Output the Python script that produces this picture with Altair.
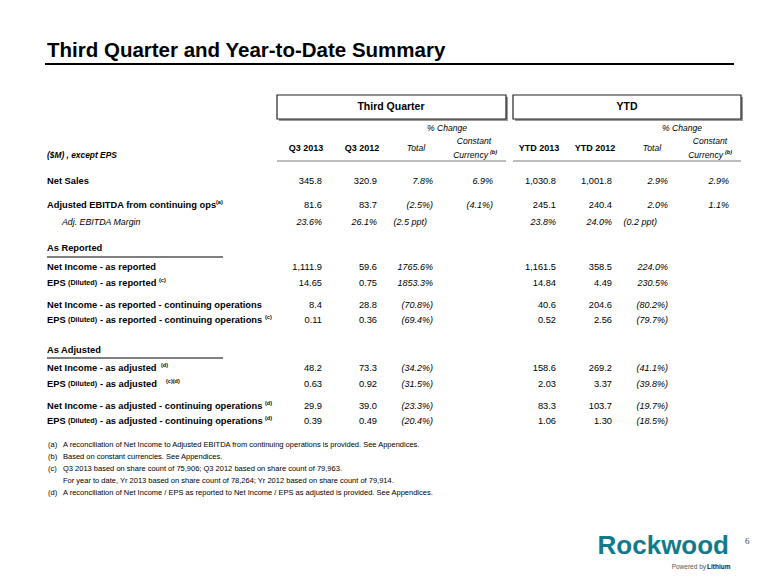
import altair as alt
import pandas as pd

FONT = "Liberation Sans"

# ---------------- data ----------------
title = "Third Quarter and Year-to-Date Summary"
group_titles = ["Third Quarter", "YTD"]
col_headers = ["Q3 2013", "Q3 2012", "Total", "Constant", "YTD 2013", "YTD 2012", "Total", "Constant"]
unit_label = "($M) , except EPS"

row_main = ["Net Sales", "Adjusted EBITDA from continuing ops", "Adj. EBITDA Margin",
            "Net Income  - as reported", "EPS", "Net Income  - as reported - continuing operations", "EPS",
            "Net Income  - as adjusted", "EPS", "Net Income - as adjusted - continuing operations", "EPS"]
row_small = ["", "", "", "", "(Diluted)", "", "(Diluted)", "", "(Diluted)", "", "(Diluted)"]
row_rest = ["", "", "", "", "- as reported", "", "- as reported - continuing operations", "",
            "- as adjusted", "", "- as adjusted - continuing operations"]
row_notes = ["", "(a)", "", "", "(c)", "", "(c)", "(d)", "(c)(d)", "(d)", "(d)"]

q3_2013 = ["345.8", "81.6", "23.6%", "1,111.9", "14.65", "8.4", "0.11", "48.2", "0.63", "29.9", "0.39"]
q3_2012 = ["320.9", "83.7", "26.1%", "59.6", "0.75", "28.8", "0.36", "73.3", "0.92", "39.0", "0.49"]
q3_total = ["7.8%", "(2.5%)", "(2.5 ppt)", "1765.6%", "1853.3%", "(70.8%)", "(69.4%)", "(34.2%)", "(31.5%)", "(23.3%)", "(20.4%)"]
q3_cc = ["6.9%", "(4.1%)", "", "", "", "", "", "", "", "", ""]
ytd_2013 = ["1,030.8", "245.1", "23.8%", "1,161.5", "14.84", "40.6", "0.52", "158.6", "2.03", "83.3", "1.06"]
ytd_2012 = ["1,001.8", "240.4", "24.0%", "358.5", "4.49", "204.6", "2.56", "269.2", "3.37", "103.7", "1.30"]
ytd_total = ["2.9%", "2.0%", "(0.2 ppt)", "224.0%", "230.5%", "(80.2%)", "(79.7%)", "(41.1%)", "(39.8%)", "(19.7%)", "(18.5%)"]
ytd_cc = ["2.9%", "1.1%", "", "", "", "", "", "", "", "", ""]

section_titles = ["As Reported", "As Adjusted"]

foot_keys = ["(a)", "(b)", "(c)", "", "(d)"]
foot_texts = [
    "A reconciliation of Net Income to Adjusted EBITDA from continuing operations is provided. See Appendices.",
    "Based on constant currencies. See Appendices.",
    "Q3 2013 based on share count of 75,906; Q3 2012 based on share count of 79,963.",
    "For year to date, Yr 2013 based on share count of 78,264; Yr 2012 based on share count of 79,914.",
    "A reconciliation of Net Income / EPS as reported to Net Income / EPS as adjusted is provided. See Appendices.",
]

# ---------------- layout (pixel positions) ----------------
row_y = [181, 205, 222, 267, 283, 305, 320, 368, 384, 406, 421]
col_right = [322, 377, 433, 493, 556, 612, 668, 729]
col_center = [306, 362, 416, 474, 539, 595, 652, 710]
italic_cols = {2, 3, 6, 7}
note_x = [0, 216, 0, 0, 159, 0, 265, 161, 166, 265, 265]
section_y = [248, 350]
foot_y = [445, 457, 469, 481, 493]

X = alt.X("x:Q", scale=alt.Scale(domain=[8, 772], nice=False, zero=False), axis=None)
Y = alt.Y("y:Q", scale=alt.Scale(domain=[8, 577], nice=False, zero=False, reverse=True), axis=None)


def txt(rows, size, weight="normal", style="normal", align="left", color="black",
        baseline="middle", font=FONT):
    df = pd.DataFrame(rows, columns=["x", "y", "t"])
    return alt.Chart(df).mark_text(font=font, fontSize=size, fontWeight=weight, fontStyle=style,
                                   align=align, baseline=baseline, color=color).encode(
        x=X, y=Y, text="t:N")


def rules(rows, color="black", width=1.0):
    df = pd.DataFrame(rows, columns=["x", "x2", "y", "y2"])
    return alt.Chart(df).mark_rule(color=color, strokeWidth=width).encode(
        x=X, x2="x2:Q", y=Y, y2="y2:Q")


def rects(rows, fill, stroke=None, width=1.0):
    df = pd.DataFrame(rows, columns=["x", "x2", "y", "y2"])
    kw = dict(fill=fill, strokeWidth=width)
    if stroke:
        kw["stroke"] = stroke
    return alt.Chart(df).mark_rect(**kw).encode(x=X, x2="x2:Q", y=Y, y2="y2:Q")


layers = []

# title
layers.append(txt([(47, 57, title)], 20.5, weight="bold", baseline="alphabetic"))
layers.append(rules([(45, 734, 64, 64)], width=2))

# group boxes (shadow + box)
boxes = [(277, 506, 95, 119), (513, 741, 95, 119)]
layers.append(rects([(a + 2, b + 2, c + 2, d + 2) for a, b, c, d in boxes], fill="#9a9a9a"))
layers.append(rects(boxes, fill="white", stroke="#222222", width=1.2))
layers.append(txt([(391, 107, group_titles[0]), (627, 107, group_titles[1])], 10.5,
                  weight="bold", align="center"))

# column headers
layers.append(txt([(447, 128, "% Change"), (682, 128, "% Change")], 8.6, style="italic", align="center"))
hdr_bold = [(col_center[i], 148, col_headers[i]) for i in (0, 1, 4, 5)]
layers.append(txt(hdr_bold, 9, weight="bold", align="center"))
hdr_it = [(col_center[2], 148, col_headers[2]), (col_center[6], 148, col_headers[6]),
          (col_center[3], 141, col_headers[3]), (col_center[7], 141, col_headers[7])]
layers.append(txt(hdr_it, 8.6, style="italic", align="center"))
layers.append(txt([(488, 155, "Currency"), (723, 155, "Currency")], 8.6, style="italic", align="right"))
layers.append(txt([(490, 152, "(b)"), (725, 152, "(b)")], 5.5, weight="bold", style="italic"))
layers.append(txt([(47, 155, unit_label)], 8.4, weight="bold", style="italic"))
layers.append(rules([(277, 506, 161, 161), (513, 741, 161, 161)], color="#bdbdbd", width=2))

# row labels
main_bold = [(47, row_y[i], row_main[i]) for i in range(len(row_main)) if i != 2]
layers.append(txt(main_bold, 9.3, weight="bold"))
layers.append(txt([(62, row_y[2], row_main[2])], 8.8, style="italic"))
small = [(68, row_y[i], row_small[i]) for i in range(len(row_small)) if row_small[i]]
layers.append(txt(small, 7.2, weight="bold"))
rest = [(100, row_y[i], row_rest[i]) for i in range(len(row_rest)) if row_rest[i]]
layers.append(txt(rest, 9.3, weight="bold"))
notes = [(note_x[i], row_y[i] - 3, row_notes[i]) for i in range(len(row_notes)) if row_notes[i]]
layers.append(txt(notes, 5.5, weight="bold"))

# section headers
layers.append(txt([(47, section_y[0], section_titles[0]), (47, section_y[1], section_titles[1])], 9.3, weight="bold"))
layers.append(rules([(47, 223, 257, 257), (47, 223, 358, 358)], color="#555555", width=1.3))

# values
columns = [q3_2013, q3_2012, q3_total, q3_cc, ytd_2013, ytd_2012, ytd_total, ytd_cc]
ppt_shift = {2: -6, 6: -11}
regular, italic = [], []
for c, col in enumerate(columns):
    for r, v in enumerate(col):
        if not v:
            continue
        x = col_right[c] + (ppt_shift.get(c, 0) if "ppt" in v else 0)
        cell = (x, row_y[r], v)
        if c in italic_cols or r == 2:
            italic.append(cell)
        else:
            regular.append(cell)
layers.append(txt(regular, 9.3, align="right"))
layers.append(txt(italic, 9.0, style="italic", align="right"))

# footnotes
layers.append(txt([(48, foot_y[i], foot_keys[i]) for i in range(len(foot_keys)) if foot_keys[i]], 7.5))
layers.append(txt([(63, foot_y[i], foot_texts[i]) for i in range(len(foot_texts))], 7.5))

# logo & page number
layers.append(txt([(729, 546, "Rockwood")], 26, weight="bold", align="right", color="#127b8b"))
layers.append(txt([(706, 567, "Powered by")], 6.5, align="right", color="#555555"))
layers.append(txt([(707, 567, "Lithium")], 6.5, weight="bold", color="#222222"))
layers.append(txt([(745, 541, "6")], 9, color="#444444", font="Liberation Serif"))

chart = alt.layer(*layers).properties(
    width=764, height=569, padding=0, autosize="none"
).configure_view(stroke=None)

chart.save("out.html", embed_options={"renderer": "svg", "actions": False})
